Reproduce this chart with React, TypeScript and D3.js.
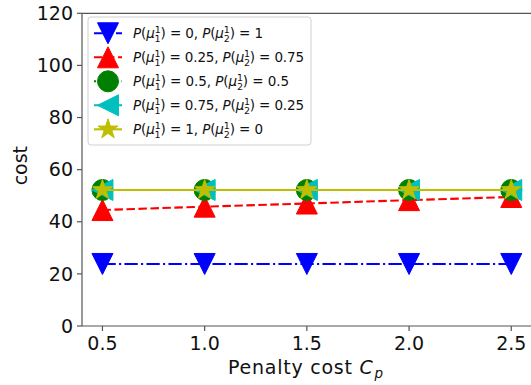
import React from 'react';
import * as d3 from 'd3';

// penalty cost values on x
const penalty = [0.5, 1.0, 1.5, 2.0, 2.5];
// cost for each prior
const costP0 = [23.8, 23.8, 23.8, 23.8, 23.8];
const costP25 = [44.5, 45.8, 47.0, 48.3, 49.5];
const costP50 = [52.2, 52.2, 52.2, 52.2, 52.2];
const costP75 = [52.2, 52.2, 52.2, 52.2, 52.2];
const costP100 = [52.2, 52.2, 52.2, 52.2, 52.2];
const xTicks = [0.5, 1.0, 1.5, 2.0, 2.5];
const yTicks = [0, 20, 40, 60, 80, 100, 120];
const legendLabels = [
  ['0', '1'],
  ['0.25', '0.75'],
  ['0.5', '0.5'],
  ['0.75', '0.25'],
  ['1', '0'],
];
// widths of legend texts as measured on the reference
const legendWidths = [130, 171, 156, 171, 130];

const W = 531;
const H = 385;
const FONT = 'DejaVu Sans, sans-serif';
const MS = 21; // marker size px

// marker path around 0,0
const markerPath = (kind: string, s: number) => {
  const h = s / 2;
  if (kind === 'v') return `M${-h},${-h}L${h},${-h}L0,${h}Z`;
  if (kind === '^') return `M0,${-h}L${h},${h}L${-h},${h}Z`;
  if (kind === '<') return `M${-h},0L${h},${-h}L${h},${h}Z`;
  if (kind === 'o') return `M${h},0A${h},${h} 0 1,1 ${-h},0A${h},${h} 0 1,1 ${h},0Z`;
  // star
  const pts = [];
  for (let i = 0; i < 10; i++) {
    const r = i % 2 === 0 ? h : h * 0.381966;
    const a = (Math.PI / 5) * i - Math.PI / 2;
    pts.push([r * Math.cos(a), r * Math.sin(a)]);
  }
  return 'M' + pts.map((p) => p.join(',')).join('L') + 'Z';
};

const series = [
  { values: costP0, color: '#0000ff', marker: 'v', dash: '13.3,3.3,2.1,3.3' },
  { values: costP25, color: '#ff0000', marker: '^', dash: '8.5,3.5' },
  { values: costP50, color: '#008000', marker: 'o', dash: '2.1,3.4' },
  { values: costP75, color: '#00bfbf', marker: '<', dash: '13.3,3.3,2.1,3.3' },
  { values: costP100, color: '#bfbf00', marker: '*', dash: null },
];

const margin = { left: 82, top: 13.3, bottom: 326 };

const Label = ({ a, b }: { a: string; b: string }) => {
  const part = (sub: string, val: string, last: boolean) => (
    <>
      <tspan fontStyle="italic">P</tspan>
      <tspan>(</tspan>
      <tspan fontStyle="italic">μ</tspan>
      <tspan fontSize={9.5} dy={-5}>1</tspan>
      <tspan fontSize={9.5} dx={-6} dy={8.5}>{sub}</tspan>
      <tspan dy={-3.5}>) = {val}</tspan>
      {!last && <tspan>, </tspan>}
    </>
  );
  return (
    <>
      {part('1', a, false)}
      {part('2', b, true)}
    </>
  );
};

export default function App() {
  const x = d3.scaleLinear().domain([0.4, 2.6]).range([margin.left, margin.left + 449.7]);
  const y = d3.scaleLinear().domain([0, 120]).range([margin.bottom, margin.top]);
  const line = d3
    .line<number>()
    .x((d, i) => x(penalty[i]))
    .y((d) => y(d));

  const legX = 88;
  const legY = 17;
  const rowH = 24;

  return (
    <svg
      width={W}
      height={H}
      style={{ position: 'absolute', left: 0, top: 0, background: '#fff' }}
      fontFamily={FONT}
    >
      {/* lines then markers, per series */}
      {series.map((s, si) => (
        <g key={si}>
          <path
            d={line(s.values) || ''}
            fill="none"
            stroke={s.color}
            strokeWidth={2.1}
            strokeDasharray={s.dash || undefined}
          />
          {s.values.map((v, i) => (
            <path
              key={i}
              transform={`translate(${x(penalty[i])},${y(v)})`}
              d={markerPath(s.marker, MS)}
              fill={s.color}
              stroke={s.color}
              strokeWidth={1}
            />
          ))}
        </g>
      ))}

      {/* spines */}
      <line x1={margin.left} x2={margin.left} y1={margin.top} y2={margin.bottom} stroke="#555" strokeWidth={1.2} />
      <line x1={margin.left} x2={W} y1={margin.bottom} y2={margin.bottom} stroke="#555" strokeWidth={1.2} />
      <line x1={margin.left} x2={W} y1={margin.top} y2={margin.top} stroke="#555" strokeWidth={1.2} />

      {/* y axis */}
      {yTicks.map((t) => (
        <g key={t}>
          <line x1={margin.left - 5} x2={margin.left} y1={y(t)} y2={y(t)} stroke="#555" strokeWidth={1.2} />
          <text x={margin.left - 9} y={y(t)} dy="0.35em" textAnchor="end" fontSize={19} fill="#111">
            {t}
          </text>
        </g>
      ))}
      <text
        transform={`translate(20,${(margin.top + margin.bottom) / 2 - 4}) rotate(-90)`}
        textAnchor="middle"
        dy="0.35em"
        fontSize={19}
        fill="#111"
      >
        cost
      </text>

      {/* x axis */}
      {xTicks.map((t) => (
        <g key={t}>
          <line x1={x(t)} x2={x(t)} y1={margin.bottom} y2={margin.bottom + 5} stroke="#555" strokeWidth={1.2} />
          <text x={x(t)} y={350} textAnchor="middle" fontSize={19} fill="#111">
            {t.toFixed(1)}
          </text>
        </g>
      ))}
      <text x={228} y={374} fontSize={19} fill="#111" textLength={155} lengthAdjust="spacing">
        Penalty cost <tspan fontStyle="italic">C</tspan>
        <tspan fontSize={13.5} fontStyle="italic" dx={1} dy={4}>p</tspan>
      </text>

      {/* legend */}
      <rect x={legX} y={legY} width={223} height={128} rx={3} fill="#fff" fillOpacity={0.8} stroke="#d0d0d0" />
      {series.map((s, i) => {
        const cy = legY + 16.3 + i * rowH;
        return (
          <g key={i}>
            <line x1={94} x2={122} y1={cy} y2={cy} stroke={s.color} strokeWidth={2.1} strokeDasharray={s.dash || undefined} />
            <path transform={`translate(108,${cy})`} d={markerPath(s.marker, MS)} fill={s.color} stroke={s.color} />
            <text
              x={133}
              y={cy}
              dy="0.35em"
              fontSize={13.5}
              fill="#111"
              textLength={legendWidths[i]}
              lengthAdjust="spacing"
            >
              <Label a={legendLabels[i][0]} b={legendLabels[i][1]} />
            </text>
          </g>
        );
      })}
    </svg>
  );
}
